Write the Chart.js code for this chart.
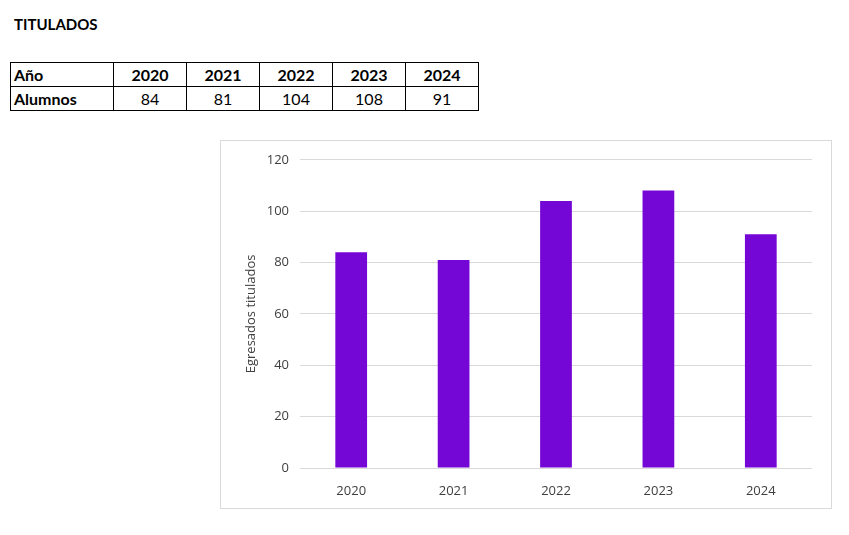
<!DOCTYPE html>
<html>
<head>
<meta charset="utf-8">
<script src="https://cdn.jsdelivr.net/npm/chart.js@4"></script>
<style>
  body { margin: 0; background: #fff; font-family: Lato, "Open Sans", sans-serif; }
  #title { position: absolute; left: 14px; top: 15px; font-size: 15px; font-weight: bold; }
  table#datos { position: absolute; left: 10px; top: 62px; border-collapse: collapse; font-size: 16px; }
  #datos td { border: 1px solid #000; height: 23px; padding: 0 3px; text-align: center; width: 66px; }
  #datos td:first-child { text-align: left; width: 96px; font-weight: bold; }
  #datos tr:first-child td { font-weight: bold; }
  #box { position: absolute; left: 220px; top: 140px; width: 610px; height: 367px; border: 1px solid #d9d9d9; }
</style>
</head>
<body>
<div id="title">TITULADOS</div>
<table id="datos"></table>
<div id="box"><canvas id="titulados" width="610" height="367"></canvas></div>
<script>
const years = ['2020', '2021', '2022', '2023', '2024'];
const alumnos = [84, 81, 104, 108, 91];
const yTicks = [0, 20, 40, 60, 80, 100, 120];

// fill the little table above the chart
const table = document.querySelector('#datos');
table.innerHTML =
  '<tr><td>Año</td>' + years.map((y) => '<td>' + y + '</td>').join('') + '</tr>' +
  '<tr><td>Alumnos</td>' + alumnos.map((v) => '<td>' + v + '</td>').join('') + '</tr>';

const ctx = document.querySelector('canvas#titulados').getContext('2d');
Chart.defaults.font.family = '"Open Sans", Lato, sans-serif';
Chart.defaults.color = '#404040';

new Chart(ctx, {
  type: 'bar',
  data: {
    labels: years,
    datasets: [{
      label: 'Alumnos',
      data: alumnos,
      backgroundColor: '#7406d6',
      barPercentage: 0.62,
      categoryPercentage: 0.5,
    }],
  },
  options: {
    responsive: false,
    animation: false,
    layout: { padding: { top: 18, right: 19, left: 0, bottom: 0 } },
    plugins: { legend: { display: false }, tooltip: { enabled: false } },
    scales: {
      x: {
        grid: { display: false },
        border: { display: false },
        ticks: { padding: 7, font: { size: 13 } },
        afterFit: (scale) => { scale.height = 40; },
      },
      y: {
        min: 0,
        max: 120,
        afterBuildTicks: (scale) => { scale.ticks = yTicks.map((v) => ({ value: v })); },
        grid: { color: '#d9d9d9', drawTicks: false },
        border: { display: false },
        ticks: { padding: 11, font: { size: 13 } },
        title: { display: true, text: 'Egresados titulados', font: { size: 13 }, padding: { top: 22, bottom: 0 } },
        afterFit: (scale) => { scale.width = 79; },
      },
    },
  },
});
</script>
</body>
</html>
